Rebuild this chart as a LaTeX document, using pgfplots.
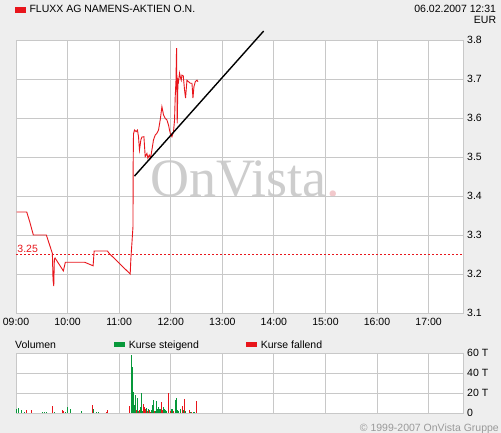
\documentclass[border=0pt]{standalone}
\usepackage{pgfplots}
\pgfplotsset{compat=1.18}
\usepackage{fontspec}
\setmainfont{Liberation Sans}
\newfontfamily\wmfont{Liberation Serif}
\definecolor{bg}{HTML}{EEEEEE}
\definecolor{gridc}{HTML}{C8C8C8}
\definecolor{kred}{HTML}{E8151B}
\definecolor{kgreen}{HTML}{07983A}
\definecolor{wm}{HTML}{CDCDCD}
\definecolor{wmdot}{HTML}{F2C9CC}
\definecolor{copyc}{HTML}{9A9A9A}

\pgfplotsset{
  chartbase/.style={
    scale only axis, anchor=south west, width=447pt,
    xmin=0, xmax=8.6667,
    xtick={0,1,2,3,4,5,6,7,8},
    grid=major, grid style={gridc, line width=0.8pt},
    axis line style={gridc, line width=0.8pt},
    major tick length=0pt,
    tick label style={font=\fontsize{10.5}{12}\selectfont},
    yticklabel pos=right,
    yticklabel style={anchor=west, xshift=4pt, inner sep=0pt},
  },
}

\begin{document}
\begin{tikzpicture}[font=\fontsize{10.5}{12}\selectfont]
\fill[bg] (0pt,0pt) rectangle (501pt,433pt);
\useasboundingbox (0pt,0pt) rectangle (501pt,433pt);
\fill[white] (16pt,120pt) rectangle (463pt,393pt);
\fill[white] (16pt,20pt) rectangle (463pt,80pt);
\coordinate (priceSW) at (16pt,120pt);
\coordinate (volSW) at (16pt,20pt);

% watermark
\node[wm, anchor=base west, inner sep=0pt, font=\wmfont\fontsize{54}{54}\selectfont]
  at (150pt,236.3pt) {OnVista\textcolor{wmdot}{.}};

% header
\fill[kred] (15pt,420.3pt) rectangle (25.7pt,425.7pt);
\node[anchor=base west, inner sep=0pt] at (29.3pt,420.3pt) {FLUXX AG NAMENS-AKTIEN O.N.};
\node[anchor=base east, inner sep=0pt] at (496.3pt,420.3pt) {06.02.2007 12:31};
\node[anchor=base east, inner sep=0pt] at (496.3pt,409pt) {EUR};

% price panel
\begin{axis}[chartbase,
  at={(priceSW)}, height=273pt,
  ymin=3.1, ymax=3.8,
  ytick={3.1,3.2,3.3,3.4,3.5,3.6,3.7,3.8},
  yticklabels={\mbox{3.1},\mbox{3.2},\mbox{3.3},\mbox{3.4},\mbox{3.5},\mbox{3.6},\mbox{3.7},\mbox{3.8}},
  xticklabels={\mbox{09:00},\mbox{10:00},\mbox{11:00},\mbox{12:00},\mbox{13:00},\mbox{14:00},\mbox{15:00},\mbox{16:00},\mbox{17:00}},
  xticklabel style={anchor=base, yshift=-13pt, inner sep=0pt},
  clip=false,
]
\addplot[kred, dash pattern=on 2pt off 2pt, line width=0.8pt]
  coordinates {(0,3.25) (8.6667,3.25)};
\node[kred, anchor=base west, inner sep=0pt, yshift=2pt] at (axis cs:0.025,3.25) {3.25};

\addplot[kred, line width=0.9pt] coordinates {
(0.014,3.359) (0.208,3.359) (0.266,3.334) (0.336,3.300) (0.588,3.300)
(0.705,3.253) (0.718,3.185) (0.732,3.169) (0.744,3.238) (0.757,3.241)
(0.918,3.208) (0.957,3.230) (1.334,3.230) (1.495,3.221) (1.515,3.259)
(1.773,3.259) (1.806,3.253) (2.214,3.200) (2.227,3.238) (2.268,3.321)
(2.272,3.485) (2.278,3.559) (2.297,3.569) (2.330,3.565) (2.355,3.569)
(2.375,3.552) (2.394,3.518) (2.421,3.544) (2.441,3.551) (2.480,3.552)
(2.505,3.501) (2.538,3.509) (2.557,3.497) (2.583,3.505) (2.608,3.497)
(2.635,3.518) (2.666,3.544) (2.699,3.556) (2.732,3.561) (2.763,3.569)
(2.796,3.595) (2.829,3.629) (2.860,3.608) (2.893,3.599) (2.926,3.595)
(2.957,3.582) (2.990,3.561) (3.023,3.552) (3.054,3.565) (3.074,3.595)
(3.087,3.655) (3.101,3.693) (3.113,3.779) (3.126,3.586) (3.140,3.697)
(3.151,3.693) (3.171,3.715) (3.184,3.706) (3.204,3.697) (3.217,3.710)
(3.243,3.708) (3.268,3.672) (3.287,3.651) (3.315,3.697) (3.346,3.693)
(3.379,3.689) (3.412,3.689) (3.431,3.651) (3.450,3.680) (3.476,3.693)
(3.509,3.697) (3.528,3.693)
};
% trend line
\addplot[black, line width=1.4pt] coordinates {(2.297,3.451) (4.802,3.823)};
\end{axis}

% volume legend
\node[anchor=base west, inner sep=0pt] at (15pt,84.7pt) {Volumen};
\fill[kgreen] (114pt,85.7pt) rectangle (125pt,91pt);
\node[anchor=base west, inner sep=0pt] at (128.7pt,84.7pt) {Kurse steigend};
\fill[kred] (246pt,85.7pt) rectangle (257pt,91pt);
\node[anchor=base west, inner sep=0pt] at (260.7pt,84.7pt) {Kurse fallend};

% volume panel
\begin{axis}[chartbase,
  at={(volSW)}, height=60pt,
  ymin=0, ymax=60,
  ytick={0,20,40,60},
  yticklabels={\mbox{0},\mbox{20 T},\mbox{40 T},\mbox{60 T}},
  xticklabels={},
]
\addplot[ycomb, kgreen, line width=1pt] coordinates {
(0.019,4.3) (0.058,5) (0.097,3.3) (0.165,1.3) (0.510,1.3) (0.549,1.3)
(0.582,1.3) (0.756,1.3) (0.956,1.3) (0.994,6.3) (1.047,4.3) (1.066,2)
(1.279,2.3) (1.498,4.3) (1.557,1.3) (1.595,1.3) (2.235,58.3) (2.254,46.3)
(2.274,21.3) (2.293,8.3) (2.312,18.3) (2.351,15.3) (2.371,2.3) (2.409,6.3)
(2.429,20.3) (2.448,2.3) (2.526,5.3) (2.564,4.3) (2.623,3.3) (2.642,8.3)
(2.661,13.3) (2.700,2.3) (2.720,12.3) (2.739,4.3) (2.758,6.3) (2.778,4.3)
(2.797,4.3) (2.855,6.3) (2.875,4.3) (2.894,3.3) (2.913,2.3) (3.010,4.3)
(3.030,4.3) (3.088,13.3) (3.107,15.3) (3.127,3.3) (3.146,2.3) (3.185,4.3)
(3.243,3.3) (3.282,2.3) (3.379,1.3) (3.437,1.3) (3.456,1.3)
};
\addplot[ycomb, kred, line width=1pt] coordinates {
(0.194,3) (0.291,1.3) (0.310,3) (0.698,4.3) (0.717,7.3) (0.892,3.3)
(0.917,2) (1.479,8.3) (1.764,1.3) (1.783,3.3) (2.196,7.3) (2.332,3.3)
(2.390,3.3) (2.467,9.3) (2.487,6.3) (2.506,4.3) (2.545,2.3) (2.584,3.3)
(2.603,1.3) (2.681,2.3) (2.816,11.3) (2.836,3.3) (2.952,20.3) (2.991,2.3)
(3.049,2.3) (3.223,7.3) (3.262,14.3) (3.359,3.3) (3.398,1.3) (3.495,12.3)
};
\end{axis}

% footer
\node[copyc, anchor=base east, inner sep=0pt] at (499pt,1.8pt) {© 1999-2007 OnVista Gruppe};
\end{tikzpicture}
\end{document}
